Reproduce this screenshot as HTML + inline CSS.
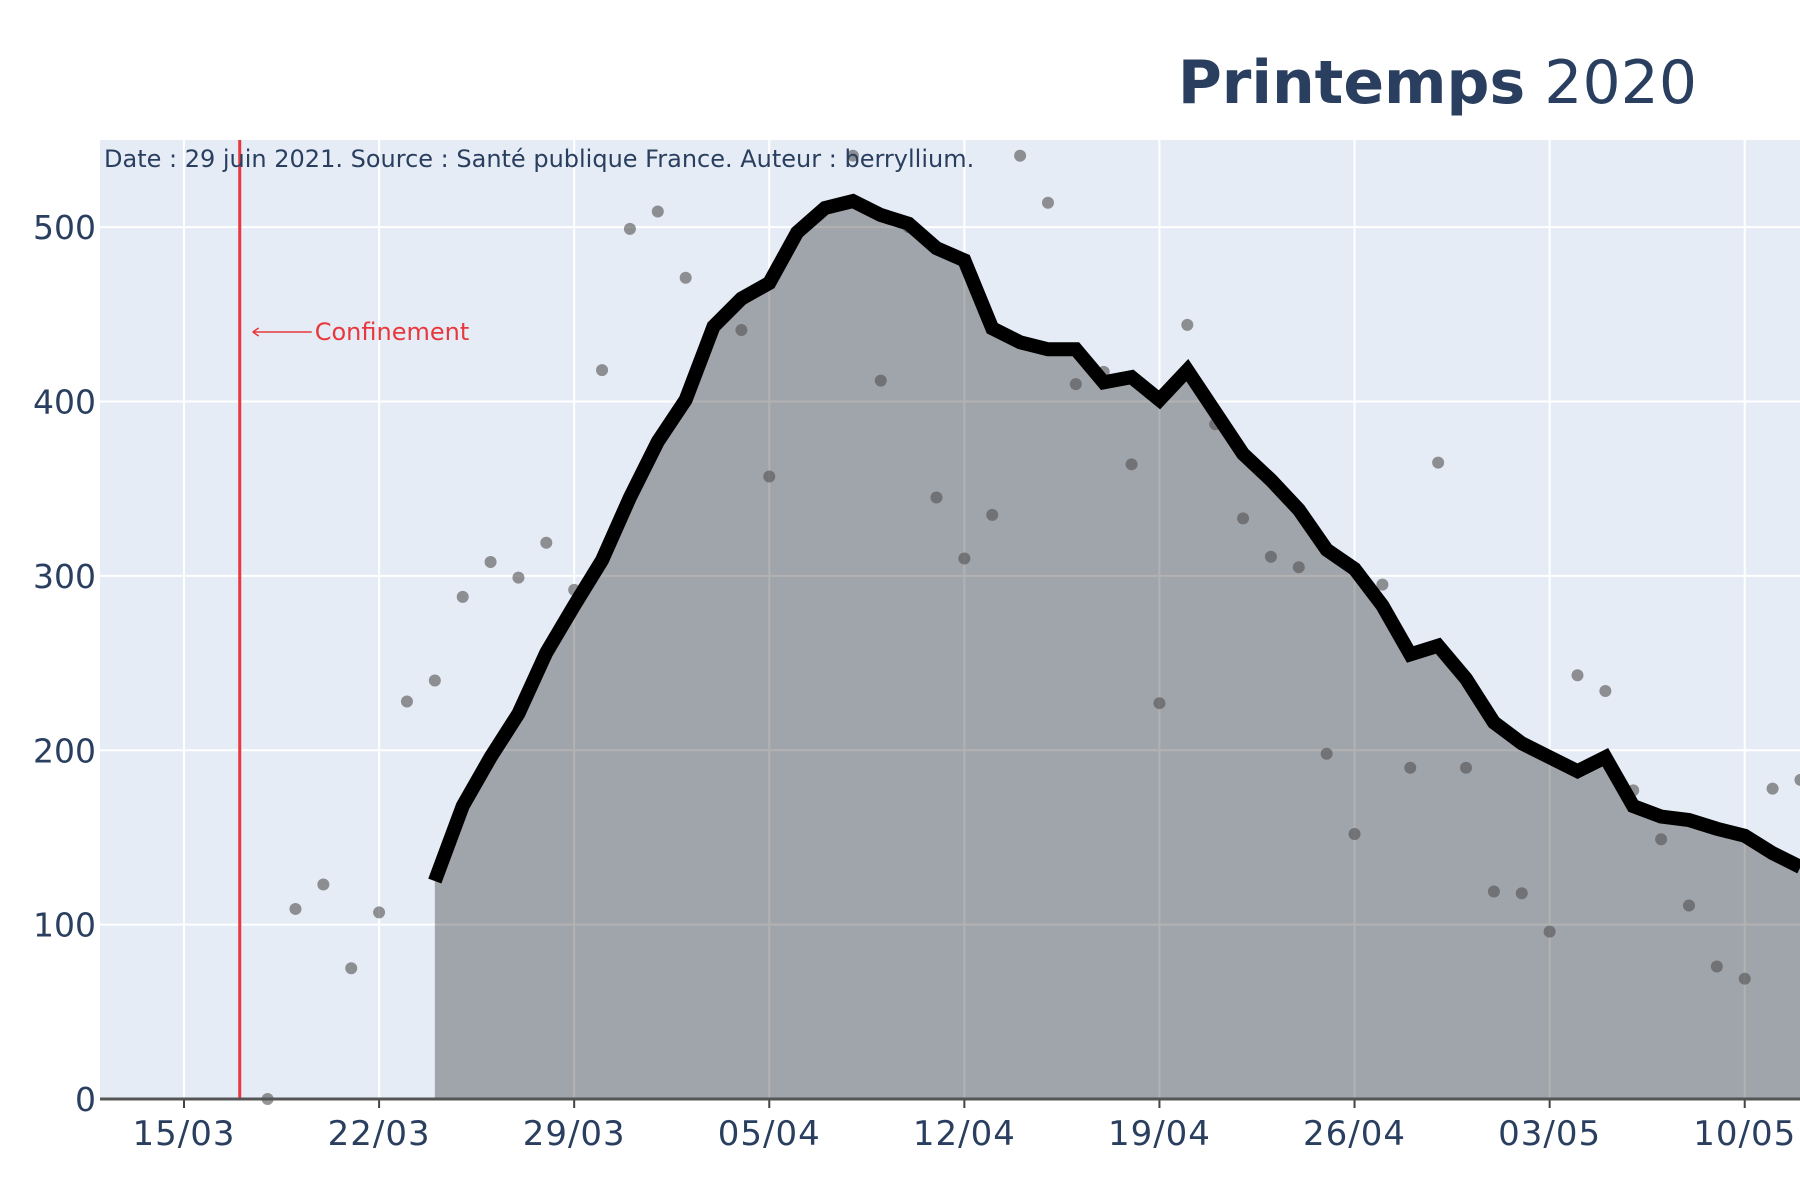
<!DOCTYPE html>
<html><head><meta charset="utf-8"><style>
html,body{margin:0;padding:0;background:#fff;width:1800px;height:1200px;overflow:hidden}
svg{display:block;font-family:"DejaVu Sans","Liberation Sans",sans-serif}
</style></head><body>
<svg id="chart" width="1800" height="1200" viewBox="0 0 1800 1200">
<rect x="0" y="0" width="1800" height="1200" fill="#fff"/>
<rect x="100" y="140" width="1700" height="959" fill="#e5ecf6"/>
<g id="grid"></g>
<g id="fill"></g>
<g id="dots"></g>
<g id="line"></g>
<g id="axes"></g>
<text x="1697" y="103" text-anchor="end" font-size="60" fill="#2a3f5f"><tspan font-weight="bold">Printemps</tspan> 2020</text>
<text x="104" y="167" font-size="24" fill="#2a3f5f">Date : 29 juin 2021. Source : Santé publique France. Auteur : berryllium.</text>
</svg>
<script>
const xTickLabels = ["15/03","22/03","29/03","05/04","12/04","19/04","26/04","03/05","10/05"];
const yTicks = [0,100,200,300,400,500];
// daily values starting 18/03
const dotValues = [0,109,123,75,107,228,240,288,308,299,319,292,418,499,509,471,443,441,357,497,511,541,412,500,345,310,335,541,514,410,417,364,227,444,387,333,311,305,198,152,295,190,365,190,119,118,96,243,234,177,149,111,76,69,178,183];
// rolling average starting 24/03
const avgValues = [125,168,196,221,256,283,309,345,377,401,443,459,468,497,511,515,507,502,488,481,442,434,430,430,411,414,401,418,394,370,355,338,315,304,283,255,260,241,216,204,196,188,196,168,162,160,155,151,141,133];
const dotStartDay = 3;   // days after 15/03
const avgStartDay = 9;
const confinementDay = 2;

const NS="http://www.w3.org/2000/svg";
const x0=184, dayW=27.87, y0=1099, yScale=959/550;
const X=d=>x0+d*dayW, Y=v=>y0-v*yScale;
function mk(tag,attrs,parent){const e=document.createElementNS(NS,tag);for(const k in attrs)e.setAttribute(k,attrs[k]);parent.appendChild(e);return e;}
const grid=document.getElementById('grid'),fill=document.getElementById('fill'),dots=document.getElementById('dots'),line=document.getElementById('line'),axes=document.getElementById('axes');

yTicks.forEach(v=>{
  if(v>0){const g=mk('line',{x1:100,x2:1800,y1:Y(v),y2:Y(v),stroke:'#fff','stroke-width':2},grid);
  
  }
  const t=mk('text',{x:96,y:Y(v)+12,'text-anchor':'end','font-size':33,fill:'#2a3f5f'},axes);t.textContent=v;
  
  
});
xTickLabels.forEach((lab,i)=>{
  const x=X(i*7);
  const g=mk('line',{x1:x,x2:x,y1:140,y2:1099,stroke:'#fff','stroke-width':2},grid);
  
  
  const tk=mk('line',{x1:x,x2:x,y1:1099,y2:1108,stroke:'#444','stroke-width':2},axes);
  
  
  const t=mk('text',{x:x,y:1145,'text-anchor':'middle','font-size':34,'letter-spacing':1,fill:'#2a3f5f'},axes);t.textContent=lab;
  
  
});
// fill area
let d='M'+X(avgStartDay)+','+y0;
avgValues.forEach((v,i)=>{d+=' L'+X(avgStartDay+i)+','+Y(v);});
d+=' L'+X(avgStartDay+avgValues.length-1)+','+y0+' Z';
const area=mk('path',{d:d,fill:'rgba(0,0,0,0.3)'},fill);


// dots
dotValues.forEach((v,i)=>{
  const c=mk('circle',{cx:X(dotStartDay+i),cy:Y(v),r:6,fill:'rgba(80,80,80,0.6)'},dots);
  
  
});
// line
const pts=avgValues.map((v,i)=>X(avgStartDay+i)+','+Y(v)).join(' ');
const pl=mk('polyline',{points:pts,fill:'none',stroke:'#000','stroke-width':14,'stroke-linejoin':'miter'},line);


// confinement
const cx=X(confinementDay);
const cl=mk('line',{x1:cx,x2:cx,y1:140,y2:1099,stroke:'#e8383d','stroke-width':3},axes);


const ar=mk('path',{d:`M${cx+13},332 L${cx+72},332 M${cx+13},332 l6,-4 M${cx+13},332 l6,4`,stroke:'#e8383d','stroke-width':1.5,fill:'none'},axes);


const ct=mk('text',{x:cx+75,y:340,'font-size':24,fill:'#e8383d'},axes);ct.textContent='Confinement';


const ax=mk('line',{x1:100,x2:1800,y1:1099,y2:1099,stroke:'#555','stroke-width':3},axes);


</script>
</body></html>
